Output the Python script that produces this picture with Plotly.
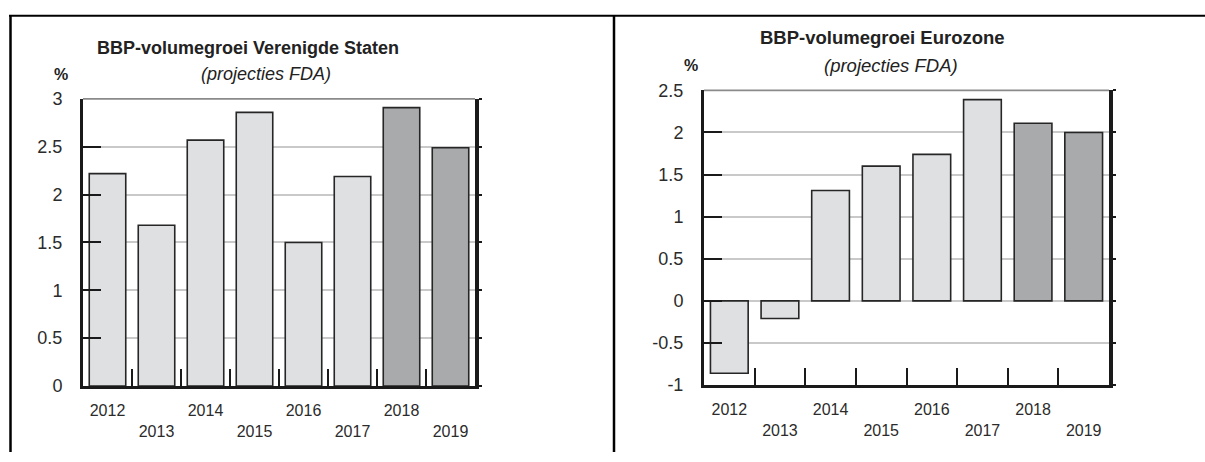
import plotly.graph_objects as go

# ---------------- data ----------------
years = ["2012", "2013", "2014", "2015", "2016", "2017", "2018", "2019"]
year_labels = ["2012", "<br>2013", "2014", "<br>2015", "2016", "<br>2017", "2018", "<br>2019"]
projected = [False, False, False, False, False, False, True, True]

us_growth = [2.22, 1.68, 2.57, 2.86, 1.50, 2.19, 2.91, 2.49]
ez_growth = [-0.86, -0.21, 1.31, 1.60, 1.74, 2.39, 2.11, 2.00]

us_ticks = [0, 0.5, 1, 1.5, 2, 2.5, 3]
us_ticktext = ["0", "0.5", "1", "1.5", "2", "2.5", "3"]
ez_ticks = [-1, -0.5, 0, 0.5, 1, 1.5, 2, 2.5]
ez_ticktext = ["-1", "-0.5", "0", "0.5", "1", "1.5", "2", "2.5"]

us_title = "BBP-volumegroei Verenigde Staten"
ez_title = "BBP-volumegroei Eurozone"
subtitle = "(projecties FDA)"
unit = "%"

# ---------------- styling ----------------
W, H = 1205, 462
FONT = "Liberation Sans, Arial, sans-serif"
LIGHT = "#dfe0e2"
DARK = "#a9aaac"
EDGE = "#262626"
AXIS = "#1a1a1a"
GRID = "#c9c9c9"
TXT = "#2b2b2b"


def px_x(x):
    return x / W


def px_y(y):
    return 1 - y / H


colors = [DARK if p else LIGHT for p in projected]

fig = go.Figure()
fig.add_trace(go.Bar(x=years, y=us_growth, xaxis="x", yaxis="y",
                     marker=dict(color=colors, line=dict(color=EDGE, width=1.6)),
                     width=0.745, showlegend=False, hoverinfo="x+y"))
fig.add_trace(go.Bar(x=years, y=ez_growth, xaxis="x2", yaxis="y2",
                     marker=dict(color=colors, line=dict(color=EDGE, width=1.6)),
                     width=0.745, showlegend=False, hoverinfo="x+y"))
# invisible companions so the right-hand mirror axes are drawn
fig.add_trace(go.Scatter(x=years, y=us_growth, xaxis="x", yaxis="y3", mode="markers",
                         marker=dict(opacity=0), hoverinfo="skip", showlegend=False))
fig.add_trace(go.Scatter(x=years, y=ez_growth, xaxis="x2", yaxis="y4", mode="markers",
                         marker=dict(opacity=0), hoverinfo="skip", showlegend=False))

L_dom_x = [px_x(83), px_x(475)]
L_dom_y = [px_y(393), px_y(93)]
R_dom_x = [px_x(704), px_x(1109)]
R_dom_y = [px_y(392), px_y(84)]

xcommon = dict(type="category", tickson="boundaries", ticks="inside", ticklen=17,
               tickwidth=1.5, tickcolor=AXIS, showline=True, linewidth=3,
               linecolor=AXIS, showgrid=False, zeroline=False,
               tickvals=years, ticktext=year_labels, ticklabelstandoff=8,
               tickfont=dict(family=FONT, size=16, color=TXT), fixedrange=True)
ycommon = dict(ticks="inside", ticklen=18, tickwidth=1.5, tickcolor=AXIS,
               showline=True, linewidth=3, linecolor=AXIS, showgrid=True,
               gridcolor=GRID, gridwidth=1.5, zeroline=False,
               tickfont=dict(family=FONT, size=18, color=TXT),
               ticklabelstandoff=14, fixedrange=True)
ymirror = dict(showline=True, linewidth=3.5, linecolor=AXIS, ticks="outside",
               ticklen=3, tickwidth=1.5, tickcolor=AXIS, showticklabels=False,
               showgrid=False, zeroline=False, side="right", fixedrange=True)

fig.update_layout(
    width=W, height=H, margin=dict(l=0, r=0, t=0, b=0),
    paper_bgcolor="white", plot_bgcolor="white", bargap=0.25,
    xaxis=dict(domain=L_dom_x, anchor="y", **xcommon),
    yaxis=dict(domain=L_dom_y, anchor="x", range=[0, 3], tickvals=us_ticks,
               ticktext=us_ticktext, **ycommon),
    xaxis2=dict(domain=R_dom_x, anchor="y2", **xcommon),
    yaxis2=dict(domain=R_dom_y, anchor="x2", range=[-1, 2.5], tickvals=ez_ticks,
                ticktext=ez_ticktext, **ycommon),
    yaxis3=dict(overlaying="y", anchor="x", range=[0, 3], tickvals=us_ticks, **ymirror),
    yaxis4=dict(overlaying="y2", anchor="x2", range=[-1, 2.5], tickvals=ez_ticks, **ymirror),
)

# top frame lines of the plot areas (thin gray)
for xr, yr in (("x domain", "y domain"), ("x2 domain", "y2 domain")):
    fig.add_shape(type="line", xref=xr, yref=yr, x0=0, x1=1, y0=1, y1=1,
                  line=dict(color="#8a8a8a", width=1.8), layer="above")

# document table borders
border = dict(color="black", width=2.5)
fig.add_shape(type="line", xref="paper", yref="paper", x0=px_x(9), x1=1,
              y0=px_y(6), y1=px_y(6), line=dict(color="black", width=2))
fig.add_shape(type="line", xref="paper", yref="paper", x0=px_x(10.5), x1=px_x(10.5),
              y0=px_y(6), y1=0, line=border)
fig.add_shape(type="line", xref="paper", yref="paper", x0=px_x(614), x1=px_x(614),
              y0=px_y(6), y1=0, line=border)

# titles
ann = [
    (us_title, 248, 40, "bold", "normal", 18),
    (subtitle, 266, 67, "normal", "italic", 18),
    (unit, 61, 67, "bold", "normal", 16),
    (ez_title, 882, 29, "bold", "normal", 18.5),
    (subtitle, 891, 58, "normal", "italic", 18.5),
    (unit, 691, 58, "bold", "normal", 16),
]
for text, x, y, weight, style, size in ann:
    fig.add_annotation(text=text, xref="paper", yref="paper", x=px_x(x), y=px_y(y),
                       xanchor="center", yanchor="middle", showarrow=False,
                       font=dict(family=FONT, size=size, color="#222", weight=weight,
                                 style=style))

fig.write_html("out.html")
